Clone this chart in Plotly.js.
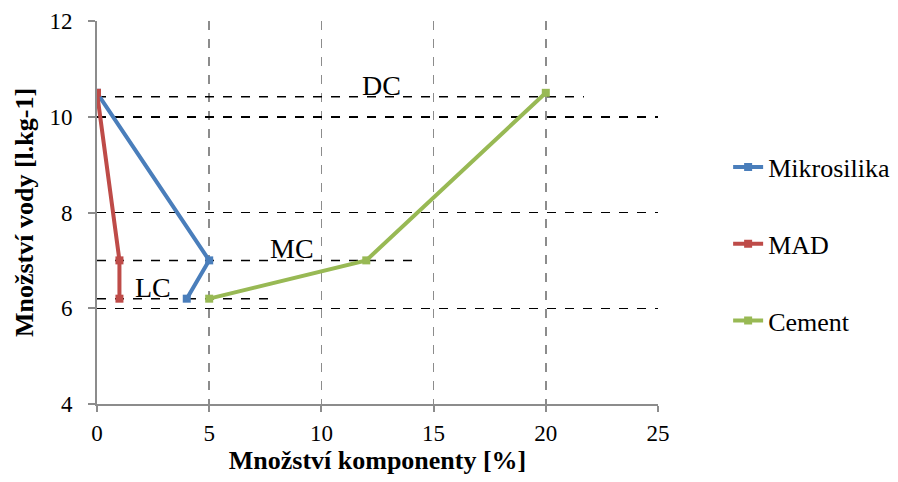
<!DOCTYPE html>
<html><head><meta charset="utf-8">
<script src="https://cdn.plot.ly/plotly-3.0.1.min.js"></script>
<style>html,body{margin:0;padding:0;background:#fff}</style>
</head><body><div id="chart" style="width:898px;height:482px"></div>
<script>
const seriesNames = ["Mikrosilika", "MAD", "Cement"];
const seriesColors = ["#4A7EBB", "#BE4B48", "#98B954"];
const mikrosilikaX = [0, 5, 4];
const mikrosilikaY = [10.5, 7, 6.2];
const madX = [0, 1, 1];
const madY = [10.5, 7, 6.2];
const cementX = [20, 12, 5];
const cementY = [10.5, 7, 6.2];

const refLabels = ["DC", "MC", "LC"];
const refY = [10.42, 7.0, 6.2];
const refXStart = [0, 0, 0];
const refXEnd = [21.7, 14.2, 7.8];
const refLabelX = [12.7, 8.7, 2.5];

const xTicks = [0, 5, 10, 15, 20, 25];
const yTicks = [4, 6, 8, 10, 12];

const serif = "Liberation Serif";
const traces = [];
const xs = [mikrosilikaX, madX, cementX];
const ys = [mikrosilikaY, madY, cementY];
for (let i = 0; i < 3; i++) {
  traces.push({
    x: xs[i], y: ys[i], type: "scatter", mode: "lines+markers",
    name: seriesNames[i], legendgroup: "g" + i,
    line: {color: seriesColors[i], width: 4},
    marker: {color: seriesColors[i], symbol: "square", size: 8}
  });
}
for (let i = 0; i < refY.length; i++) {
  traces.push({
    x: [refXStart[i], refXEnd[i]], y: [refY[i], refY[i]],
    type: "scatter", mode: "lines", showlegend: false, hoverinfo: "skip",
    line: {color: "#000", width: 1.5, dash: "dash"}
  });
}
const ordered = traces.slice(3).concat(traces.slice(0, 3));

const annotations = refLabels.map((t, i) => ({
  x: refLabelX[i], y: refY[i], xref: "x", yref: "y", text: t,
  showarrow: false, yanchor: "bottom", yshift: -6,
  font: {family: serif, size: 28, color: "#000"}
}));

const layout = {
  width: 898, height: 482,
  margin: {l: 97, r: 240, t: 21, b: 78, autoexpand: false},
  paper_bgcolor: "#fff", plot_bgcolor: "#fff",
  font: {family: serif, color: "#000", size: 23},
  showlegend: true,
  legend: {x: 1.125, y: 0.68, xanchor: "left", yanchor: "top",
    font: {family: serif, size: 26, color: "#000"}, tracegroupgap: 40,
    bgcolor: "rgba(0,0,0,0)"},
  xaxis: {
    range: [0, 25], tickvals: xTicks, ticktext: xTicks.map(String),
    showgrid: true, gridcolor: "#8c8c8c", griddash: "dash", gridwidth: 1.5,
    showline: true, linecolor: "#8c8c8c", linewidth: 2,
    ticks: "outside", ticklen: 6, tickcolor: "#8c8c8c", tickwidth: 2,
    ticklabelstandoff: 1,
    zeroline: false, tickfont: {family: serif, size: 23, color: "#000"},
    title: {text: "<b>Množství komponenty [%]</b>", font: {family: serif, size: 26}, standoff: 6}
  },
  yaxis: {
    range: [4, 12], tickvals: yTicks, ticktext: yTicks.map(String),
    showgrid: true, gridcolor: "#000", griddash: "dash", gridwidth: 1.5,
    showline: true, linecolor: "#8c8c8c", linewidth: 2,
    ticks: "outside", ticklen: 7, tickcolor: "#8c8c8c", tickwidth: 2,
    ticklabelstandoff: 11,
    zeroline: false, tickfont: {family: serif, size: 23, color: "#000"},
    title: {text: "<b>Množství vody [l.kg-1]</b>", font: {family: serif, size: 26}, standoff: 8}
  },
  annotations: annotations
};
Plotly.newPlot("chart", ordered, layout, {displayModeBar: false, staticPlot: true});
</script></body></html>
